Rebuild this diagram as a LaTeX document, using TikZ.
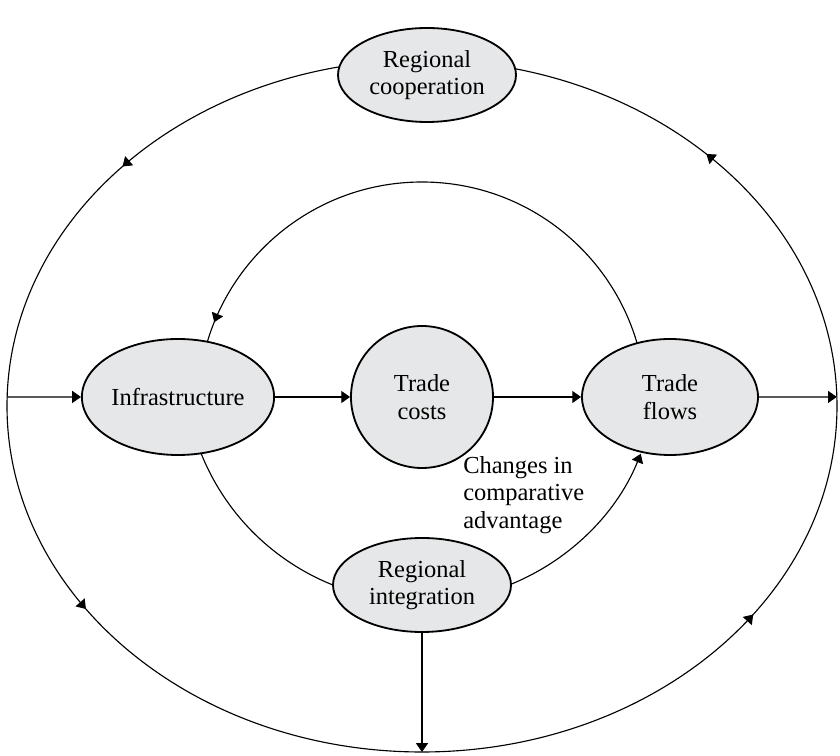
\documentclass[tikz,border=0pt]{standalone}
\usepackage{fontspec}
\setmainfont{Liberation Serif}
\usetikzlibrary{arrows.meta,shapes.geometric,decorations.markings,positioning}
\definecolor{nodegray}{RGB}{230,231,232}
\newcommand{\looptip}{\arrow{Triangle[length=2.2mm,width=3mm]}}

\begin{document}
\begin{tikzpicture}[
            every node/.style={font=\fontsize{17.4}{19.5}\selectfont},
            entity/.style={ellipse, draw, line width=1.3pt, fill=nodegray, align=center, inner sep=1pt},
            bignode/.style={entity, minimum width=4.4cm, minimum height=2.9cm},
            flatnode/.style={entity, minimum width=4.45cm, minimum height=2.35cm},
            roundnode/.style={circle, draw, line width=1.3pt, fill=nodegray, minimum size=3.55cm, align=center},
            arrow/.style={-{Triangle[length=2.2mm,width=3mm]}, line width=0.8pt},
            outerloop/.style={line width=0.8pt, postaction={decorate}, decoration={markings,
                mark=at position 0.1227 with {\looptip},
                mark=at position 0.3855 with {\looptip},
                mark=at position 0.5929 with {\looptip},
                mark=at position 0.904 with {\looptip}}},
            upperloop/.style={line width=0.8pt, postaction={decorate}, decoration={markings,
                mark=at position 0.878 with {\looptip}}}
        ]
        \useasboundingbox (0,0) rectangle (21,18.9);

        % Outer loop and the two inner arcs
        \coordinate (hub) at (10.55,8.75);
        \coordinate (lowhub) at (10.525,9.775);
        \draw[outerloop] (hub) ellipse [x radius=10.375, y radius=8.65];
        \draw[upperloop] ([shift={(0:5.6)}]hub) arc [start angle=0, end angle=180, radius=5.6];
        \draw[arrow] ([shift={(200:5.925)}]lowhub) arc [start angle=200, end angle=338, radius=5.925];

        \coordinate (outW) at ([shift={(178.5:10.375 and 8.65)}]hub);
        \coordinate (outE) at ([shift={(1.5:10.375 and 8.65)}]hub);
        \coordinate (outS) at ([shift={(270:10.375 and 8.65)}]hub);

        % Nodes
        \node[flatnode] (coop) at (10.675,17.025) {Regional\\cooperation};
        \node[bignode] (infra) at (4.45,8.975) {Infrastructure};
        \node[roundnode] (costs) at (10.55,8.975) {Trade\\costs};
        \node[bignode] (flows) at (16.75,8.975) {Trade\\flows};
        \node[flatnode] (integ) at (10.55,4.275) {Regional\\integration};

        \node[anchor=north west, align=left, inner sep=0pt] (shift) at (11.575,7.5) {Changes in\\comparative\\advantage};

        % === EDGES ===
        \draw[arrow] (outW) -- (infra);
        \draw[arrow] (infra) -- (costs);
        \draw[arrow] (costs) -- (flows);
        \draw[arrow] (flows) -- (outE);
        \draw[arrow] (integ) -- (integ |- outS);

    \end{tikzpicture}
\end{document}
